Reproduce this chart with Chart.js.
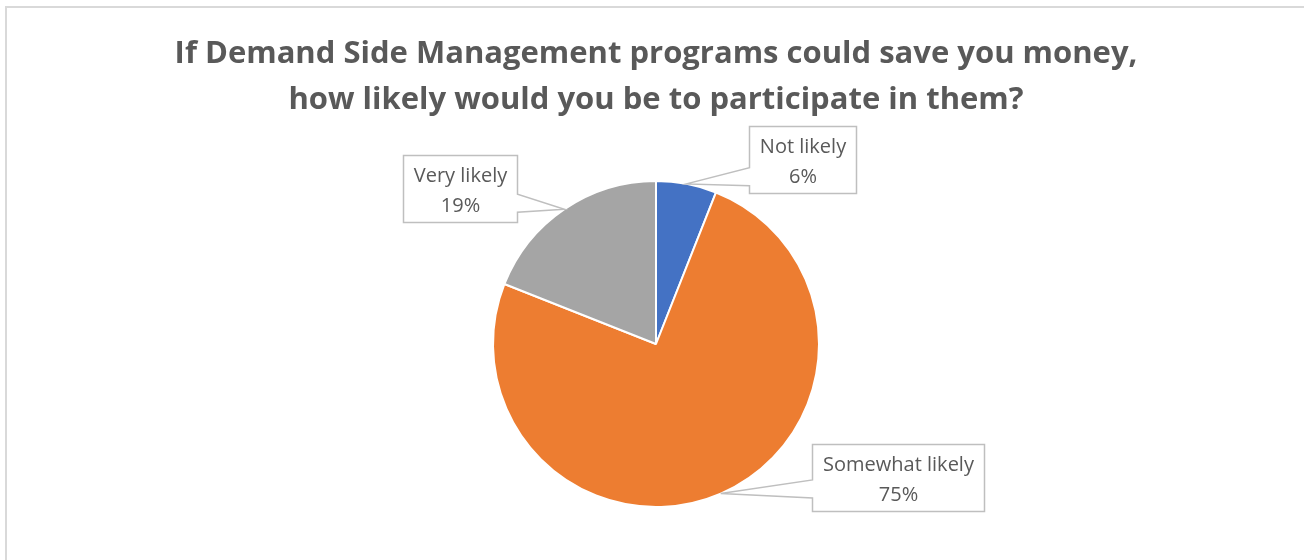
<!DOCTYPE html>
<html>
<head>
<meta charset="utf-8">
<script src="https://cdn.jsdelivr.net/npm/chart.js@4.4.1/dist/chart.umd.min.js"></script>
<style>
  html, body { margin: 0; padding: 0; background: #fff; }
</style>
</head>
<body>
<canvas id="pie" width="1304" height="560"></canvas>
<script>
const titleLines = [
    "If Demand Side Management programs could save you money,",
    "how likely would you be to participate in them?"
];
const categories = ["Not likely", "Somewhat likely", "Very likely"];
const shares = [6, 75, 19];
const sliceColors = ["#4472C4", "#ED7D31", "#A5A5A5"];

// centre of each callout box, relative to where the slice's middle meets the rim
const calloutOffsets = [[116, -24], [177, -16], [-104, -21]];

const FONT = "'Open Sans', Lato, sans-serif";

// light grey frame round the chart (top and left edges are visible)
const frame = {
    id: "frame",
    beforeDraw(chart) {
        const ctx = chart.ctx;
        ctx.save();
        ctx.strokeStyle = "#D9D9D9";
        ctx.lineWidth = 2;
        ctx.beginPath();
        ctx.moveTo(6, chart.height);
        ctx.lineTo(6, 7);
        ctx.lineTo(chart.width, 7);
        ctx.stroke();
        ctx.restore();
    }
};

// boxed data labels with a pointer to the slice
const callouts = {
    id: "callouts",
    afterDatasetsDraw(chart) {
        const ctx = chart.ctx;
        const arcs = chart.getDatasetMeta(0).data;
        ctx.save();
        ctx.font = "20px " + FONT;
        ctx.textAlign = "center";
        ctx.textBaseline = "middle";

        arcs.forEach((arc, i) => {
            const p = arc.getProps(["x", "y", "startAngle", "endAngle", "outerRadius"], true);
            const mid = (p.startAngle + p.endAngle) / 2;
            const tipX = p.x + Math.cos(mid) * p.outerRadius;
            const tipY = p.y + Math.sin(mid) * p.outerRadius;

            const lines = [categories[i], shares[i] + "%"];
            const w = Math.round(Math.max(...lines.map(t => ctx.measureText(t).width)) + 21);
            const h = 67;
            const cx = tipX + calloutOffsets[i][0];
            const cy = tipY + calloutOffsets[i][1];
            const l = Math.round(cx - w / 2) + 0.5;
            const r = l + w;
            const t = Math.round(cy - h / 2) + 0.5;
            const b = t + h;
            const midX = (l + r) / 2, midY = (t + b) / 2;

            const baseY = Math.min(Math.max(midY + 0.7 * (tipY - midY), t + 10), b - 10);

            ctx.beginPath();
            ctx.moveTo(l, t);
            ctx.lineTo(r, t);
            if (tipX > r) {
                ctx.lineTo(r, baseY - 9);
                ctx.lineTo(tipX, tipY);
                ctx.lineTo(r, baseY + 9);
            }
            ctx.lineTo(r, b);
            ctx.lineTo(l, b);
            if (tipX < l) {
                ctx.lineTo(l, baseY + 9);
                ctx.lineTo(tipX, tipY);
                ctx.lineTo(l, baseY - 9);
            }
            ctx.closePath();
            ctx.fillStyle = "#FFFFFF";
            ctx.fill();
            ctx.strokeStyle = "#BFBFBF";
            ctx.lineWidth = 1.5;
            ctx.stroke();

            ctx.fillStyle = "#595959";
            ctx.fillText(lines[0], midX, midY - 13);
            ctx.fillText(lines[1], midX, midY + 17);
        });
        ctx.restore();
    }
};

new Chart(document.getElementById("pie"), {
    type: "pie",
    data: {
        labels: categories,
        datasets: [{
            data: shares,
            backgroundColor: sliceColors,
            borderColor: "#FFFFFF",
            borderWidth: 2
        }]
    },
    options: {
        responsive: false,
        animation: false,
        events: [],
        layout: {
            padding: { left: 8, right: 0, top: 0, bottom: 52 }
        },
        plugins: {
            legend: { display: false },
            tooltip: { enabled: false },
            title: {
                display: true,
                text: titleLines,
                color: "#595959",
                font: { family: FONT, size: 31, weight: "bold", lineHeight: "46px" },
                padding: { top: 31, bottom: 57 }
            }
        }
    },
    plugins: [frame, callouts]
});
</script>
</body>
</html>
